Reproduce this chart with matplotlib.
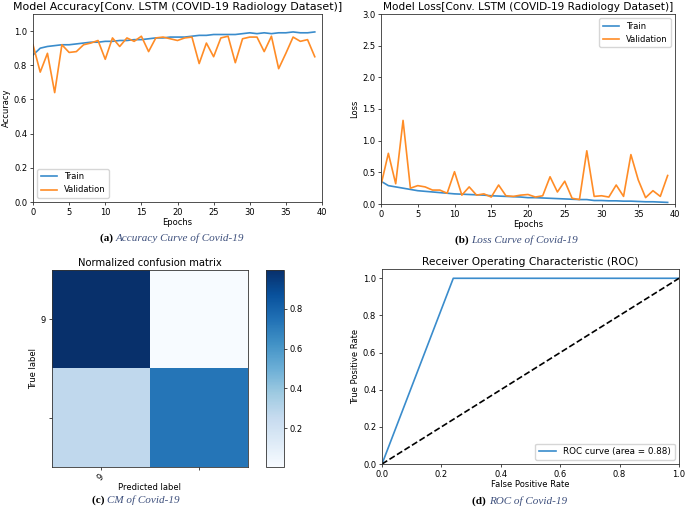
import numpy as np
import matplotlib
matplotlib.use("Agg")
import matplotlib.pyplot as plt

# Data
epochs = list(range(40))

train_acc = [0.86, 0.90, 0.91, 0.915, 0.92, 0.92, 0.925, 0.93, 0.935, 0.935,
             0.94, 0.94, 0.945, 0.945, 0.95, 0.95, 0.955, 0.96, 0.96, 0.965,
             0.965, 0.965, 0.97, 0.975, 0.975, 0.98, 0.98, 0.98, 0.98, 0.985,
             0.99, 0.985, 0.99, 0.985, 0.99, 0.99, 0.995, 0.99, 0.99, 0.995]
val_acc = [0.92, 0.76, 0.87, 0.64, 0.92, 0.875, 0.88, 0.92, 0.93, 0.945,
           0.835, 0.96, 0.91, 0.96, 0.94, 0.97, 0.88, 0.96, 0.965, 0.955,
           0.945, 0.96, 0.965, 0.81, 0.93, 0.85, 0.96, 0.97, 0.815, 0.955,
           0.965, 0.965, 0.88, 0.97, 0.78, 0.87, 0.965, 0.94, 0.95, 0.85]

train_loss = [0.36, 0.29, 0.27, 0.25, 0.23, 0.21, 0.20, 0.19, 0.18, 0.17,
              0.16, 0.155, 0.15, 0.145, 0.14, 0.13, 0.125, 0.12, 0.115, 0.11,
              0.10, 0.10, 0.095, 0.09, 0.085, 0.08, 0.075, 0.07, 0.07, 0.055,
              0.055, 0.05, 0.05, 0.045, 0.045, 0.04, 0.035, 0.035, 0.03, 0.025]
val_loss = [0.30, 0.80, 0.32, 1.32, 0.25, 0.29, 0.27, 0.22, 0.22, 0.17,
            0.51, 0.14, 0.27, 0.14, 0.16, 0.11, 0.30, 0.13, 0.12, 0.14,
            0.15, 0.11, 0.13, 0.43, 0.19, 0.36, 0.09, 0.07, 0.84, 0.12,
            0.13, 0.11, 0.30, 0.12, 0.78, 0.38, 0.10, 0.21, 0.12, 0.45]

cm = np.array([[0.995, 0.005],
               [0.27, 0.73]])
cm_labels = ['9', '']

fpr = [0.0, 0.24, 1.0]
tpr = [0.0, 1.0, 1.0]
roc_auc = 0.88

W, H = 685, 511
plt.rcParams['font.family'] = 'DejaVu Sans'
plt.rcParams['font.size'] = 6
plt.rcParams['axes.linewidth'] = 0.6
plt.rcParams['axes.edgecolor'] = '#333333'
plt.rcParams['xtick.major.size'] = 2.2
plt.rcParams['ytick.major.size'] = 2.2
plt.rcParams['xtick.major.width'] = 0.5
plt.rcParams['ytick.major.width'] = 0.5
plt.rcParams['xtick.major.pad'] = 2
plt.rcParams['ytick.major.pad'] = 2

fig = plt.figure(figsize=(W / 100, H / 100), dpi=100)


def px_axes(left, top, right, bottom):
    return fig.add_axes([left / W, 1 - bottom / H, (right - left) / W, (bottom - top) / H])


def caption(x, y, tag, text):
    fig.text(x / W, 1 - y / H, tag + ' ', ha='right', va='center', fontsize=8,
             family='Liberation Serif', weight='bold', color='black')
    fig.text(x / W, 1 - y / H, text, ha='left', va='center', fontsize=8,
             family='Liberation Serif', style='italic', color='#3d4f7c')


lw = 1.2

# (a) accuracy
ax = px_axes(33, 14, 322, 202)
ax.plot(epochs, train_acc, color='#3a8ccc', lw=lw, label='Train')
ax.plot(epochs, val_acc, color='#ff8c26', lw=lw, label='Validation')
ax.set_xlim(0, 40)
ax.set_ylim(0, 1.1)
ax.set_yticks([0.0, 0.2, 0.4, 0.6, 0.8, 1.0])
ax.set_title('Model Accuracy[Conv. LSTM (COVID-19 Radiology Dataset)]', fontsize=7.9, pad=3)
ax.set_xlabel('Epochs', labelpad=1)
ax.set_ylabel('Accuracy', labelpad=2)
ax.legend(loc='lower left', fontsize=6)
caption(116, 238, '(a)', 'Accuracy Curve of Covid-19')

# (b) loss
ax = px_axes(381, 14, 675, 204)
ax.plot(epochs, train_loss, color='#3a8ccc', lw=lw, label='Train')
ax.plot(epochs, val_loss, color='#ff8c26', lw=lw, label='Validation')
ax.set_xlim(0, 40)
ax.set_ylim(0, 3.0)
ax.set_title('Model Loss[Conv. LSTM (COVID-19 Radiology Dataset)]', fontsize=7.6, pad=3)
ax.set_xlabel('Epochs', labelpad=1)
ax.set_ylabel('Loss', labelpad=2)
ax.legend(loc='upper right', fontsize=6)
caption(471, 240, '(b)', 'Loss Curve of Covid-19')

# (c) confusion matrix
ax = px_axes(52, 270, 248, 467)
im = ax.imshow(cm, cmap='Blues', interpolation='nearest', aspect='auto')
ax.set_xticks([0, 1])
ax.set_xticklabels(cm_labels, rotation=45)
ax.set_yticks([0, 1])
ax.set_yticklabels(cm_labels)
ax.set_title('Normalized confusion matrix', fontsize=7.2, pad=3)
ax.set_xlabel('Predicted label', labelpad=0)
ax.set_ylabel('True label', labelpad=2)
cax = px_axes(266, 270, 284, 467)
cb = fig.colorbar(im, cax=cax)
cb.set_ticks([0.2, 0.4, 0.6, 0.8])
cb.outline.set_linewidth(0.6)
caption(107, 500, '(c)', 'CM of Covid-19')

# (d) ROC
ax = px_axes(382, 269, 679, 464)
ax.plot(fpr, tpr, color='#3a8ccc', lw=lw, label='ROC curve (area = %0.2f)' % roc_auc)
ax.plot([0, 1], [0, 1], 'k--', lw=lw)
ax.set_xlim(0.0, 1.0)
ax.set_ylim(0.0, 1.05)
ax.set_title('Receiver Operating Characteristic (ROC)', fontsize=7.7, pad=3)
ax.set_xlabel('False Positive Rate', labelpad=1)
ax.set_ylabel('True Positive Rate', labelpad=2)
ax.legend(loc='lower right', fontsize=6.3)
caption(489, 501, '(d)', 'ROC of Covid-19')

fig.savefig('out.png', dpi=100)
